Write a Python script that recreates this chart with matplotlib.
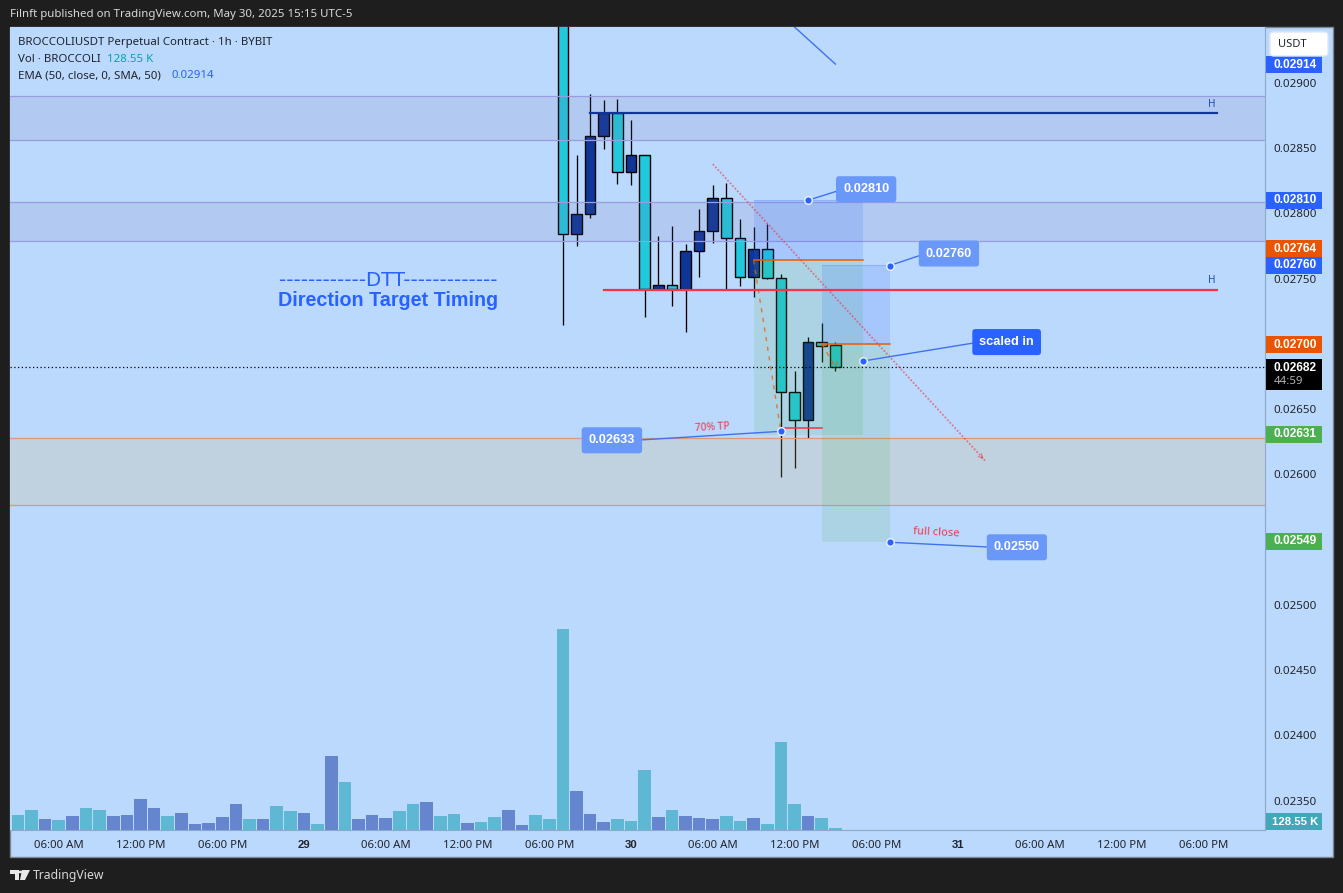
import matplotlib
matplotlib.use("Agg")
import matplotlib.pyplot as plt
from matplotlib.patches import Rectangle, FancyBboxPatch, Polygon

W, H = 1343, 893
FONT = "Noto Sans"
BOLD = "Liberation Sans"
plt.rcParams['font.family'] = [FONT, 'DejaVu Sans']

# candles start at bar 40, bars are hourly
candle_idx = list(range(40, 61))
opens = [0.02970, 0.027839, 0.027992, 0.028589, 0.028770, 0.028314, 0.028446, 0.027420, 0.027448, 0.027420,
         0.027711, 0.027864, 0.028115, 0.027808, 0.027514, 0.027724, 0.027502, 0.026629, 0.026414, 0.027012, 0.026991]
closes = [0.027839, 0.027992, 0.028589, 0.028770, 0.028314, 0.028446, 0.027420, 0.027448, 0.027420, 0.027711,
          0.027864, 0.028115, 0.027808, 0.027514, 0.027724, 0.027502, 0.026629, 0.026414, 0.027012, 0.026986, 0.026820]
highs = [0.02980, 0.028446, 0.028913, 0.028867, 0.028875, 0.028714, 0.028446, 0.027826, 0.027902, 0.027765,
         0.028033, 0.028216, 0.028232, 0.027956, 0.027897, 0.027918, 0.027535, 0.026792, 0.027050, 0.027157, 0.027012]
lows = [0.027144, 0.027749, 0.027966, 0.028492, 0.028226, 0.028219, 0.027208, 0.027420, 0.027292, 0.027090,
        0.027514, 0.027775, 0.027420, 0.027445, 0.027361, 0.027494, 0.025982, 0.026051, 0.026281, 0.026863, 0.026794]

# volume in thousands, one per bar from bar 0
volumes = [960, 1280, 704, 640, 896, 1408, 1280, 896, 960, 1984, 1408, 896, 1088, 384, 448, 832, 1664, 704, 704, 1536,
           1216, 1088, 384, 4736, 3072, 704, 960, 768, 1216, 1664, 1792, 896, 1024, 448, 512, 832, 1280, 320, 960, 704,
           12864, 2496, 1024, 512, 704, 576, 3840, 832, 1280, 896, 768, 704, 896, 576, 768, 384, 5632, 1664, 896, 768, 128.55]
volume_up = [0, 0, 1, 0, 1, 0, 0, 1, 1, 1, 1, 0, 1, 1, 1, 1, 1, 0, 1, 0,
             0, 1, 0, 1, 0, 1, 1, 1, 0, 0, 1, 0, 0, 1, 0, 0, 1, 1, 0, 0,
             0, 1, 1, 1, 0, 0, 0, 1, 0, 1, 1, 1, 0, 0, 1, 0, 0, 0, 1, 0, 0]

price_ticks = [0.0290, 0.0285, 0.0280, 0.0275, 0.0265, 0.0260, 0.0250, 0.0245, 0.0240, 0.0235]
time_ticks = [3, 9, 15, 21, 27, 33, 39, 45, 51, 57, 63, 69, 75, 81, 87]
time_labels = ["06:00 AM", "12:00 PM", "06:00 PM", "29", "06:00 AM", "12:00 PM", "06:00 PM", "30",
               "06:00 AM", "12:00 PM", "06:00 PM", "31", "06:00 AM", "12:00 PM", "06:00 PM"]

zones_purple = [(0.028559, 0.028896), (0.027785, 0.028084)]
zone_orange = (0.025763, 0.026276)
last_price = 0.02682

BG = "#bbd9fd"
UP = "#0f3696"
DOWN = "#22c8dc"
BLUE = "#2962ff"
SOFT_BLUE = "#6a98f8"
RED = "#f23645"
ORANGE = "#f05a00"
INK = "#20242c"


def fx(px):
    return px / W


def fy(py):
    return 1 - py / H


fig = plt.figure(figsize=(W / 100, H / 100), dpi=100, facecolor="#1e1e1e")

# chart frame, the axes only covers the pane
fig.add_artist(Rectangle((fx(10), fy(857)), 1323 / W, 830 / H, transform=fig.transFigure,
                         facecolor=BG, edgecolor="#7c8793", lw=1, zorder=-5))

ax = fig.add_axes([fx(10), fy(830), 1255 / W, 803 / H], facecolor=BG)
ax.set_xlim(-0.578, 91.53)
ax.set_ylim(0.023276, 0.029427)

# volume
vol = ax.twinx()
vol.set_ylim(0, 803 * 64)
vol.axis("off")
vol_colors = ["#6685cf" if u else "#5eb8d3" for u in volume_up]
vol.bar(range(len(volumes)), volumes, width=0.93, color=vol_colors)

# twinx moves the price ticks to the left, so set them up afterwards
for name in ["top", "left"]:
    ax.spines[name].set_visible(False)
for name in ["bottom", "right"]:
    ax.spines[name].set_color("#8ea8c6")
ax.yaxis.tick_right()
ax.set_yticks(price_ticks)
ax.set_yticklabels(["%.5f" % p for p in price_ticks], fontsize=8.3, color=INK)
ax.set_xticks(time_ticks)
ax.set_xticklabels(time_labels, fontsize=8.2, color=INK)
ax.tick_params(axis="both", length=0)
ax.tick_params(axis="y", pad=6)
ax.tick_params(axis="x", pad=7.5)
for lab in ax.get_xticklabels():
    if lab.get_text() in ("29", "30", "31"):
        lab.set_fontweight("bold")
        lab.set_family(BOLD)

# candles
body_bottom = [min(o, c) for o, c in zip(opens, closes)]
body_height = [abs(o - c) for o, c in zip(opens, closes)]
body_colors = [UP if c > o else DOWN for o, c in zip(opens, closes)]
ax.vlines(candle_idx, lows, highs, color="black", lw=0.95, zorder=2)
ax.bar(candle_idx, body_height, bottom=body_bottom, width=0.78, color=body_colors,
       edgecolor="black", linewidth=1.0, zorder=3)

# zones
for lo, hi in zones_purple:
    ax.axhspan(lo, hi, facecolor="#7964aa", alpha=0.12, zorder=4, lw=0)
    ax.axhline(lo, color="#9a9ce0", lw=0.9, zorder=4)
    ax.axhline(hi, color="#9a9ce0", lw=0.9, zorder=4)
ax.axhspan(zone_orange[0], zone_orange[1], facecolor="#d9b66c", alpha=0.2, zorder=4, lw=0)
ax.axhline(zone_orange[0], color="#e0977a", lw=0.9, zorder=4)
ax.axhline(zone_orange[1], color="#e0977a", lw=0.9, zorder=4)

# position tools
ax.add_patch(Rectangle((54, 0.02764), 8, 0.028102 - 0.02764, facecolor=BLUE, alpha=0.15, lw=0, zorder=4))
ax.add_patch(Rectangle((54, 0.026302), 8, 0.02764 - 0.026302, facecolor="#4caf50", alpha=0.14, lw=0, zorder=4))
ax.add_patch(Rectangle((59, 0.02700), 5, 0.027604 - 0.02700, facecolor=BLUE, alpha=0.15, lw=0, zorder=4))
ax.add_patch(Rectangle((59, 0.02548), 5, 0.02700 - 0.02548, facecolor="#4caf50", alpha=0.14, lw=0, zorder=4))
ax.plot([54, 62], [0.028102, 0.028102], color=BLUE, lw=0.8, alpha=0.2, zorder=4)
ax.plot([59, 64], [0.027604, 0.027604], color=BLUE, lw=0.8, alpha=0.2, zorder=4)
ax.plot([54, 62], [0.02764, 0.02764], color=ORANGE, lw=1.1, zorder=5)
ax.plot([59, 64], [0.02700, 0.02700], color=ORANGE, lw=1.1, zorder=5)
ax.plot([54, 56], [0.02764, 0.02633], color=ORANGE, lw=1.0, ls=(0, (3, 4)), alpha=0.75, zorder=5)
ax.plot([59, 60, 60.2], [0.02700, 0.02682, 0.02688], color=ORANGE, lw=1.0, ls=(0, (3, 4)), alpha=0.75, zorder=5)
ax.plot([56, 59], [0.026353, 0.026353], color=RED, lw=1.1, zorder=5)

# horizontal levels
ax.plot([42, 88], [0.02877, 0.02877], color="#0f3696", lw=1.6, zorder=6)
ax.plot([43, 88], [0.027412, 0.027412], color=RED, lw=1.6, zorder=6)
ax.text(87.6, 0.02879, "H", color="#1f4bb0", fontsize=7.2, ha="center", va="bottom", zorder=6)
ax.text(87.6, 0.02744, "H", color="#1f4bb0", fontsize=7.2, ha="center", va="bottom", zorder=6)
ax.axhline(last_price, color="black", lw=0.9, ls=(0, (1, 2)), zorder=6)

# trend lines
ax.plot([51, 71], [0.028377, 0.026103], color=RED, lw=1.3, ls=(0, (1, 1)), alpha=0.6, zorder=6)
ax.annotate("", xy=(71, 0.026103), xytext=(70.6, 0.026148), zorder=6,
            arrowprops=dict(arrowstyle="->,head_width=0.15,head_length=0.3", color=RED, lw=0.7, alpha=0.7))
ax.plot([57, 60], [0.029427, 0.029143], color="#3f72f0", lw=1.0, zorder=6)


def callout(text, idx, price, dx, dy, color, rel):
    ax.annotate(text, xy=(idx, price), xytext=(dx, dy), textcoords="offset pixels",
                ha="center", va="center", color="white", fontsize=9.2, fontweight="bold", family=BOLD, zorder=8,
                bbox=dict(boxstyle="round,pad=0.55,rounding_size=0.25", fc=color, ec="none"),
                arrowprops=dict(arrowstyle="-", color="#3f72f0", lw=1.0, relpos=rel, shrinkA=0, shrinkB=0))
    ax.plot([idx], [price], "o", ms=5.5, mfc=BLUE, mec="#e4eefc", mew=1.1, zorder=9)


callout("0.02810", 58, 0.02810, 58, 11, SOFT_BLUE, (0, 0.5))
callout("0.02760", 64, 0.02760, 59, 12, SOFT_BLUE, (0, 0.5))
callout("scaled in", 62, 0.026868, 144, 19, BLUE, (0, 0.5))
callout("0.02633", 56, 0.02633, -169, -9, SOFT_BLUE, (1, 0.5))
callout("0.02550", 64, 0.02548, 127, -5, SOFT_BLUE, (0, 0.5))

ax.text(50.95, 0.02633 + 0.00003, "70% TP", color=RED, fontsize=7.4, rotation=3, ha="center", va="center", zorder=8)
ax.text(67.4, 0.02555, "full close", color=RED, fontsize=8, rotation=-3, ha="center", va="center", zorder=8)

# DTT note
fig.text(fx(388), fy(280), "------------DTT-------------", color=BLUE, fontsize=14.2, family="DejaVu Sans",
         ha="center", va="center", zorder=12)
fig.text(fx(388), fy(300.5), "Direction Target Timing", color=BLUE, fontsize=14.2, fontweight="bold", family=BOLD,
         ha="center", va="center", zorder=12)

# price tags on the right scale
tags = [("0.02914", 64.5, BLUE), ("0.02810", 200.3, BLUE), ("0.02764", 248.5, "#ea5400"),
        ("0.02760", 265.5, BLUE), ("0.02700", 344.5, "#ea5400"), ("0.02631", 434.3, "#4caf50"),
        ("0.02549", 541.3, "#4caf50")]
for text, y, color in tags:
    fig.add_artist(Rectangle((fx(1266), fy(y + 8.5)), 56 / W, 17 / H, transform=fig.transFigure,
                             facecolor=color, lw=0, zorder=10))
    fig.text(fx(1274), fy(y), text, color="white", fontsize=8.6, fontweight="bold", family=BOLD,
             ha="left", va="center", zorder=11)

fig.add_artist(Rectangle((fx(1266), fy(390)), 56 / W, 31 / H, transform=fig.transFigure,
                         facecolor="black", lw=0, zorder=10))
fig.text(fx(1274), fy(367.5), "0.02682", color="white", fontsize=8.6, fontweight="bold", family=BOLD,
         ha="left", va="center", zorder=11)
fig.text(fx(1274), fy(381), "44:59", color="#b0b0b0", fontsize=8.2, ha="left", va="center", zorder=11)

fig.add_artist(Rectangle((fx(1266), fy(830)), 56 / W, 17 / H, transform=fig.transFigure,
                         facecolor="#40a8b8", lw=0, zorder=10))
fig.text(fx(1272), fy(822), "128.55 K", color="white", fontsize=8.2, fontweight="bold", family=BOLD,
         ha="left", va="center", zorder=11)

# USDT button
fig.add_artist(FancyBboxPatch((fx(1270), fy(56)), 58 / W, 24 / H, transform=fig.transFigure,
                              boxstyle="round,pad=0,rounding_size=0.003", facecolor="white",
                              edgecolor="#dfe8f5", lw=1, zorder=12))
fig.text(fx(1278), fy(44.5), "USDT", color=INK, fontsize=8.0, ha="left", va="center", zorder=13)

# legend lines
fig.text(fx(18), fy(42), "BROCCOLIUSDT Perpetual Contract · 1h · BYBIT", color=INK, fontsize=8.25, va="center", zorder=12)
fig.text(fx(18), fy(59), "Vol · BROCCOLI", color=INK, fontsize=8.25, va="center", zorder=12)
fig.text(fx(107), fy(59), "128.55 K", color="#089eb0", fontsize=8.25, va="center", zorder=12)
fig.text(fx(18), fy(76), "EMA (50, close, 0, SMA, 50)", color=INK, fontsize=8.25, va="center", zorder=12)
fig.text(fx(172), fy(76), "0.02914", color=BLUE, fontsize=8.25, va="center", zorder=12)

# header and footer
fig.text(fx(10), fy(14), "Filnft published on TradingView.com, May 30, 2025 15:15 UTC-5", color="#d8d8d8",
         fontsize=8.25, va="center")
fig.text(fx(33), fy(875.5), "TradingView", color="#d8d8d8", fontsize=8.8, va="center")
logo_bars = [[(10, 870), (19, 870), (19, 880), (15, 880), (15, 874), (10, 874)],
             [(22, 870), (30, 870), (25, 880), (20, 880)]]
for shape in logo_bars:
    fig.add_artist(Polygon([(fx(a), fy(b)) for a, b in shape], closed=True, transform=fig.transFigure,
                           facecolor="#e8e8e8", lw=0))
fig.add_artist(plt.Circle((fx(20.5), fy(872)), 2 / W, transform=fig.transFigure, facecolor="#e8e8e8", lw=0))

fig.savefig("out.png", dpi=100, facecolor=fig.get_facecolor())
